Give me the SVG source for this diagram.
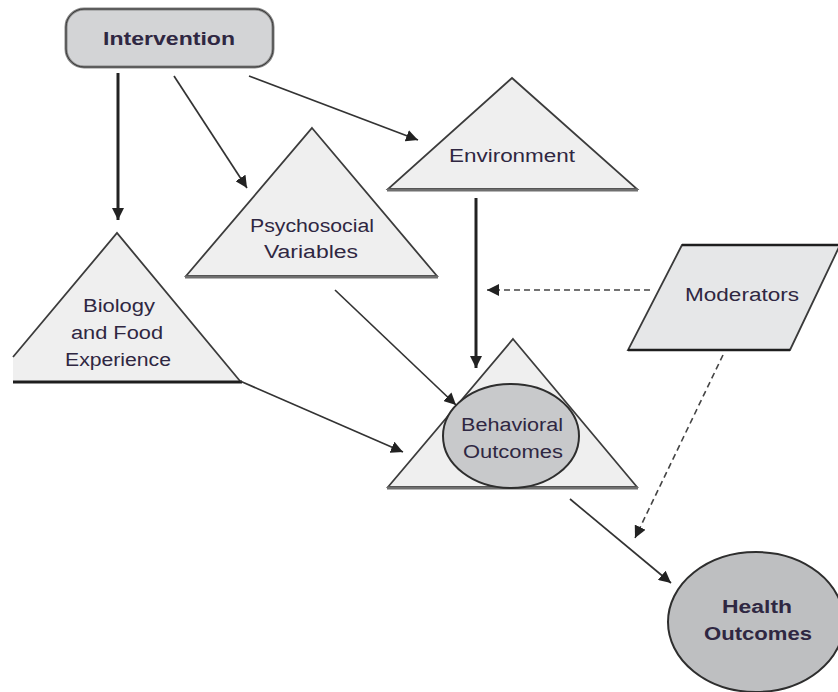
<svg xmlns="http://www.w3.org/2000/svg" width="838" height="692" viewBox="0 0 838 692">
<style>
.tri{fill:#efefef;stroke:#3c3c3c;stroke-width:1.8;stroke-linejoin:miter}
.base{stroke:#6f6f6f;stroke-width:3}
.lbl{font-family:"Liberation Sans",Arial,sans-serif;font-size:18px;fill:#2f2742;text-anchor:middle}
.bold{font-weight:bold}
.conn{stroke:#333;stroke-width:1.7;fill:none}
.thick{stroke:#222;stroke-width:3;fill:none}
.dash{stroke:#444;stroke-width:1.6;fill:none;stroke-dasharray:6 4}
</style>
<defs>
<marker id="ah" markerUnits="userSpaceOnUse" markerWidth="14" markerHeight="12" refX="12" refY="6" orient="auto">
<path d="M0,0 L12,6 L0,12 z" fill="#222"/>
</marker>
</defs>
<rect width="838" height="692" fill="#ffffff"/>

<g id="intervention">
<rect x="66" y="9" width="207" height="58" rx="18" ry="18" fill="#d3d4d6" stroke="#888" stroke-width="3"/>
<rect x="66" y="9" width="207" height="58" rx="18" ry="18" fill="none" stroke="#333" stroke-width="1" />
<text class="lbl bold" x="169" y="45" textLength="132" lengthAdjust="spacingAndGlyphs">Intervention</text>
</g>

<g id="environment">
<polygon class="tri" points="512,78 637,189 388,189"/>
<line class="base" x1="387" y1="190" x2="638" y2="190"/>
<text class="lbl" x="512" y="162" textLength="126" lengthAdjust="spacingAndGlyphs">Environment</text>
</g>

<g id="psychosocial">
<polygon class="tri" points="312,128 437,276 186,276"/>
<line class="base" x1="185" y1="277" x2="438" y2="277"/>
<text class="lbl" x="312" y="232" textLength="124" lengthAdjust="spacingAndGlyphs">Psychosocial</text>
<text class="lbl" x="311" y="258" textLength="94" lengthAdjust="spacingAndGlyphs">Variables</text>
</g>

<g id="biology">
<polygon points="117,233 240,381 13,381 13,357" fill="#efefef"/>
<path d="M13,357 L117,233 L240,381" fill="none" stroke="#3c3c3c" stroke-width="1.8"/>
<line x1="13" y1="382" x2="242" y2="382" stroke="#1e1e1e" stroke-width="3"/>
<text class="lbl" x="119" y="312" textLength="72" lengthAdjust="spacingAndGlyphs">Biology</text>
<text class="lbl" x="117" y="339" textLength="92" lengthAdjust="spacingAndGlyphs">and Food</text>
<text class="lbl" x="118" y="366" textLength="106" lengthAdjust="spacingAndGlyphs">Experience</text>
</g>

<g id="behavioral">
<polygon class="tri" points="513,339 637,487 388,487"/>
<line class="base" x1="387" y1="488" x2="638" y2="488"/>
<ellipse cx="511" cy="436" rx="68" ry="52" fill="#c8c9cb" stroke="#2e2e2e" stroke-width="2"/>
<text class="lbl" x="512" y="431" textLength="102" lengthAdjust="spacingAndGlyphs">Behavioral</text>
<text class="lbl" x="513" y="458" textLength="100" lengthAdjust="spacingAndGlyphs">Outcomes</text>
</g>

<g id="moderators">
<polygon points="682,245 840,245 790,350 628,350" fill="#e6e7e8" stroke="#3a3a3a" stroke-width="1.8"/>
<line x1="682" y1="245" x2="838" y2="245" stroke="#1e1e1e" stroke-width="2.5"/>
<line x1="628" y1="350" x2="790" y2="350" stroke="#1e1e1e" stroke-width="2.5"/>
<text class="lbl" x="742" y="301" textLength="114" lengthAdjust="spacingAndGlyphs">Moderators</text>
</g>

<g id="health">
<ellipse cx="756" cy="622" rx="88" ry="70" fill="#bebfc1" stroke="#2e2e2e" stroke-width="2"/>
<text class="lbl bold" x="757" y="613" textLength="70" lengthAdjust="spacingAndGlyphs">Health</text>
<text class="lbl bold" x="758" y="640" textLength="108" lengthAdjust="spacingAndGlyphs">Outcomes</text>
</g>

<g id="connectors">
<line class="thick" x1="118" y1="73" x2="118" y2="220" marker-end="url(#ah)"/>
<line class="conn" x1="174" y1="76" x2="247" y2="188" marker-end="url(#ah)"/>
<line class="conn" x1="249" y1="76" x2="418" y2="140" marker-end="url(#ah)"/>
<line class="thick" x1="476" y1="198" x2="476" y2="368" marker-end="url(#ah)"/>
<line class="dash" x1="650" y1="290" x2="487" y2="290" marker-end="url(#ah)"/>
<line class="conn" x1="335" y1="290" x2="456" y2="405" marker-end="url(#ah)"/>
<line class="conn" x1="240" y1="381" x2="403" y2="452" marker-end="url(#ah)"/>
<line class="conn" x1="570" y1="499" x2="671" y2="583" marker-end="url(#ah)"/>
<line class="dash" x1="723" y1="355" x2="635" y2="538" stroke-dasharray="5 3" marker-end="url(#ah)"/>
</g>
</svg>
